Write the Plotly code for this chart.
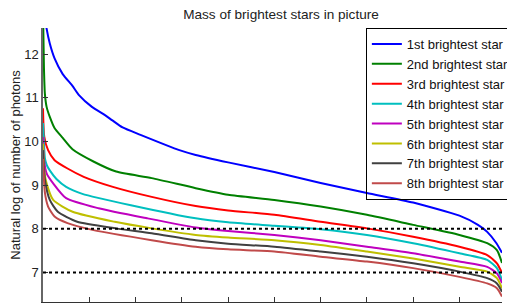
import plotly.graph_objects as go

# ---- data ----
series_names = ["1st brightest star", "2nd brightest star", "3rd brightest star",
                "4th brightest star", "5th brightest star", "6th brightest star",
                "7th brightest star", "8th brightest star"]

x1 = [0, 0.078, 0.147, 0.25, 0.426, 0.637, 0.777, 1.057, 1.34, 1.5, 1.72, 2.107, 2.947, 3.3, 4.0, 5.0, 6.0, 7.0, 8.0, 9.0, 9.4, 9.6, 9.8, 9.92]
y1 = [13.2, 12.58, 12.24, 11.9, 11.54, 11.27, 11.06, 10.79, 10.60, 10.48, 10.32, 10.15, 9.80, 9.69, 9.52, 9.30, 9.05, 8.82, 8.60, 8.30, 8.09, 7.93, 7.67, 7.45]

x2 = [0, 0.02, 0.04, 0.078, 0.147, 0.252, 0.426, 0.637, 1.09, 1.58, 2.35, 3.3, 4.0, 5.0, 6.0, 7.0, 8.0, 9.0, 9.6, 9.81, 9.92]
y2 = [13.0, 11.7, 11.1, 10.79, 10.56, 10.30, 10.08, 9.82, 9.54, 9.31, 9.16, 8.93, 8.78, 8.66, 8.51, 8.32, 8.09, 7.86, 7.67, 7.51, 7.22]

x3 = [0, 0.027, 0.11, 0.25, 0.53, 0.88, 1.51, 2.35, 3.3, 4.0, 5.0, 6.0, 7.0, 8.0, 9.0, 9.6, 9.81, 9.92]
y3 = [10.76, 10.11, 9.80, 9.57, 9.38, 9.19, 8.96, 8.73, 8.52, 8.42, 8.32, 8.16, 8.01, 7.82, 7.59, 7.40, 7.21, 6.99]

x4 = [0, 0.02, 0.04, 0.08, 0.15, 0.29, 0.5, 0.85, 1.9, 3.3, 4.0, 5.0, 6.0, 7.0, 8.0, 9.0, 9.6, 9.81, 9.92]
y4 = [10.42, 10.0, 9.62, 9.46, 9.33, 9.14, 8.96, 8.80, 8.54, 8.24, 8.15, 8.07, 7.99, 7.86, 7.67, 7.44, 7.29, 7.10, 6.83]

x5 = [0, 0.02, 0.078, 0.22, 0.5, 1.2, 2.25, 3.3, 4.0, 5.0, 6.0, 7.0, 8.0, 9.0, 9.6, 9.81, 9.92]
y5 = [10.1, 9.6, 9.27, 9.04, 8.70, 8.47, 8.24, 8.03, 7.95, 7.86, 7.74, 7.59, 7.44, 7.25, 7.13, 6.98, 6.76]

x6 = [0, 0.03, 0.078, 0.22, 0.64, 1.55, 2.35, 3.3, 4.0, 5.0, 6.0, 7.0, 8.0, 9.0, 9.6, 9.81, 9.92]
y6 = [9.95, 9.3, 9.04, 8.66, 8.39, 8.16, 8.01, 7.86, 7.80, 7.74, 7.63, 7.48, 7.32, 7.13, 7.02, 6.87, 6.64]

x7 = [0, 0.042, 0.147, 0.32, 0.74, 1.58, 2.35, 3.3, 4.0, 5.0, 6.0, 7.0, 8.0, 9.0, 9.6, 9.81, 9.92]
y7 = [9.8, 9.12, 8.66, 8.39, 8.16, 8.01, 7.90, 7.74, 7.66, 7.59, 7.48, 7.36, 7.21, 7.02, 6.87, 6.75, 6.56]

x8 = [0, 0.042, 0.11, 0.25, 0.53, 1.09, 2.35, 3.3, 4.0, 5.0, 6.0, 7.0, 8.0, 9.0, 9.6, 9.81, 9.92]
y8 = [9.6, 8.82, 8.51, 8.28, 8.13, 7.97, 7.74, 7.59, 7.53, 7.48, 7.36, 7.25, 7.10, 6.90, 6.75, 6.64, 6.45]

reference_levels = [8, 7]
y_tick_values = [7, 8, 9, 10, 11, 12]
x_tick_values = [0, 1, 2, 3, 4, 5, 6, 7, 8, 9]

# ---- styles ----
colors = ["#0000ff", "#008000", "#ff0000", "#00bfbf", "#bf00bf", "#bfbf00", "#404040", "#c04a4a"]
FONT = "Liberation Sans, Arial, Helvetica, sans-serif"

# page body has an 8px margin; the figure is sized to fill the rest of the window
W, H = 507, 295
L, T, B = 35, 20, 1
PW, PH = W - L, H - T - B

xs = [x1, x2, x3, x4, x5, x6, x7, x8]
ys = [y1, y2, y3, y4, y5, y6, y7, y8]

fig = go.Figure()
for name, xv, yv, c in zip(series_names, xs, ys, colors):
    fig.add_trace(go.Scatter(x=xv, y=yv, mode="lines", name=name,
                             line=dict(color=c, width=2, shape="spline", smoothing=0.6)))

for lvl in reference_levels:
    fig.add_shape(type="line", xref="paper", x0=0, x1=1, yref="y", y0=lvl, y1=lvl,
                  line=dict(color="black", width=2, dash="dot"))

fig.update_layout(
    width=W, height=H,
    margin=dict(l=L, r=0, t=T, b=B),
    paper_bgcolor="white", plot_bgcolor="white",
    font=dict(family=FONT, size=13, color="#222"),
    title=dict(text="Mass of brightest stars in picture", x=273 / W, xref="container",
               xanchor="center", y=1 - 6 / H, yref="container", yanchor="middle",
               font=dict(size=13.6, family=FONT, color="#222")),
    showlegend=True,
    legend=dict(x=(367 - L) / PW, y=1, xanchor="left", yanchor="top",
                bordercolor="black", borderwidth=1, bgcolor="rgba(255,255,255,0)",
                font=dict(size=13, family=FONT, color="#111"),
                tracegroupgap=0),
)
fig.update_xaxes(range=[0, 9.92], tickvals=x_tick_values, showticklabels=False,
                 ticks="inside", ticklen=5, tickcolor="#333", showline=True,
                 linecolor="#333", linewidth=1, showgrid=False, zeroline=False, mirror=False)
fig.update_yaxes(range=[6.325, 12.595], tickvals=y_tick_values, ticks="inside", ticklen=5,
                 tickcolor="#333", showline=True, linecolor="#666", linewidth=1.5,
                 showgrid=False, zeroline=False, mirror=False,
                 tickfont=dict(size=13, family=FONT, color="#222"),
                 title=dict(text="Natural log of number of photons", standoff=2,
                            font=dict(size=13, family=FONT, color="#222")))

fig.write_html("out.html")
